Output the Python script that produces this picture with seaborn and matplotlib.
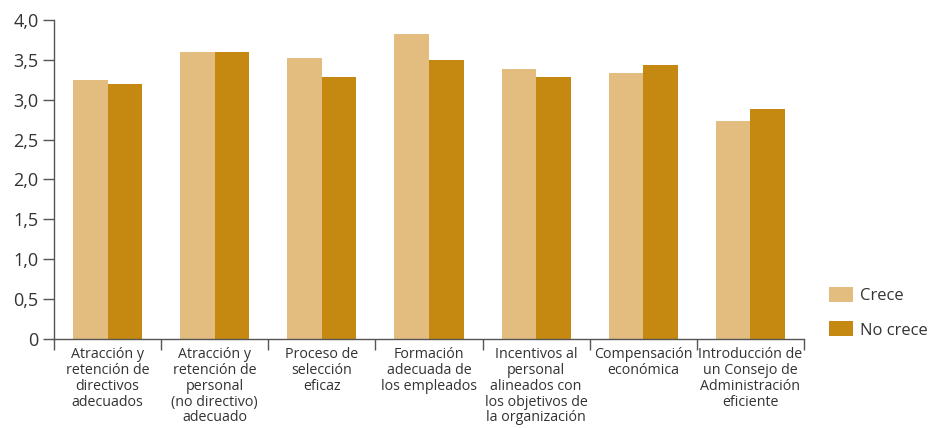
import pandas as pd
import matplotlib.pyplot as plt
import seaborn as sns
from matplotlib.ticker import FuncFormatter, FixedLocator

sns.set_theme(style="white")
plt.rcParams['font.family'] = ['Open Sans', 'DejaVu Sans']

categorias = [
    "Atracción y\nretención de\ndirectivos\nadecuados",
    "Atracción y\nretención de\npersonal\n(no directivo)\nadecuado",
    "Proceso de\nselección\neficaz",
    "Formación\nadecuada de\nlos empleados",
    "Incentivos al\npersonal\nalineados con\nlos objetivos de\nla organización",
    "Compensación\neconómica",
    "Introducción de\nun Consejo de\nAdministración\neficiente",
]
crece = [3.25, 3.60, 3.52, 3.83, 3.38, 3.33, 2.73]
no_crece = [3.20, 3.60, 3.28, 3.50, 3.28, 3.43, 2.88]
series = ["Crece", "No crece"]
colores = {"Crece": "#E3BD7F", "No crece": "#C58811"}

df = pd.DataFrame({
    "categoria": categorias * 2,
    "valor": crece + no_crece,
    "grupo": [series[0]] * len(categorias) + [series[1]] * len(categorias),
})

fig = plt.figure(figsize=(9.33, 4.28), dpi=100)
ax = fig.add_axes([0.0579, 0.208, 0.8038, 0.7453])

sns.barplot(data=df, x="categoria", y="valor", hue="grupo", palette=colores,
            width=0.645, gap=0, saturation=1, linewidth=0, ax=ax, legend=True)

txt = "#333333"
ax.set_ylim(0, 4.0)
ax.set_xlim(-0.5, len(categorias) - 0.5)
ax.set_yticks([0, 0.5, 1.0, 1.5, 2.0, 2.5, 3.0, 3.5, 4.0])
ax.yaxis.set_major_formatter(FuncFormatter(
    lambda v, p: "0" if v == 0 else f"{v:.1f}".replace(".", ",")))
ax.tick_params(axis="y", length=8, width=1, color="#555555", labelsize=13,
               labelcolor=txt, pad=3, left=True)

# límites de categoría como ticks mayores, etiquetas en ticks menores
ax.xaxis.set_major_locator(FixedLocator([i - 0.5 for i in range(len(categorias) + 1)]))
ax.xaxis.set_minor_locator(FixedLocator(range(len(categorias))))
ax.set_xticklabels([""] * (len(categorias) + 1))
ax.set_xticklabels(categorias, minor=True)
ax.tick_params(axis="x", which="major", length=8, width=1, color="#555555", bottom=True)
ax.tick_params(axis="x", which="minor", length=0, labelsize=10.3, labelcolor=txt, pad=6)
for lbl in ax.get_xticklabels(minor=True):
    lbl.set_linespacing(1.07)
    lbl.set_horizontalalignment("center")

ax.set_xlabel("")
ax.set_ylabel("")
for s in ["top", "right"]:
    ax.spines[s].set_visible(False)
for s in ["left", "bottom"]:
    ax.spines[s].set_color("#555555")
    ax.spines[s].set_linewidth(1)

leg = ax.legend(loc="upper left", bbox_to_anchor=(0.889, 0.33), bbox_transform=fig.transFigure,
                frameon=False, fontsize=12, handlelength=1.4, handleheight=1.0,
                labelspacing=1.05, handletextpad=0.45, borderaxespad=0, borderpad=0)
for t in leg.get_texts():
    t.set_color(txt)

fig.savefig("out.png", dpi=100)
